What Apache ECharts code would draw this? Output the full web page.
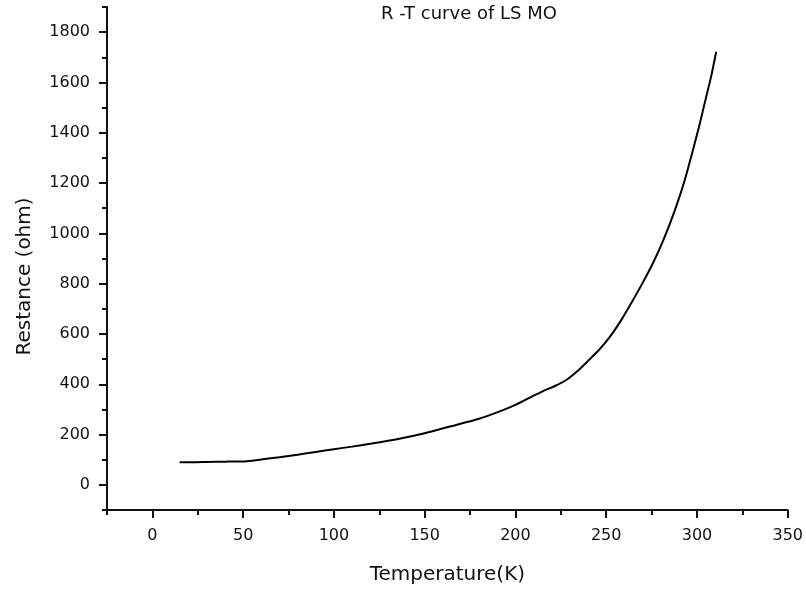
<!DOCTYPE html>
<html><head><meta charset="utf-8">
<script src="https://cdn.jsdelivr.net/npm/echarts@6/dist/echarts.min.js"></script>
<style>html,body{margin:0;padding:0;background:#fff}#c{width:806px;height:590px}</style>
</head><body><div id="c"></div>
<script>
const temperature = [15, 22, 30, 40, 45, 50, 55, 60, 70, 80, 90, 100, 110, 120, 136, 150, 164, 180, 191, 200, 209, 215, 222, 228, 235, 240, 246, 252, 258, 264, 270, 276, 282, 288, 293, 297, 301, 305, 308, 310.6];
const resistance  = [90, 90, 91, 92, 93, 93, 96, 101, 110, 120, 131, 142, 152, 163, 183, 205, 232, 263, 291, 318, 351, 372, 394, 417, 458, 493, 536, 588, 652, 725, 802, 885, 982, 1095, 1205, 1310, 1420, 1540, 1630, 1722];
const xMajorTicks = [0, 50, 100, 150, 200, 250, 300, 350];
const xMinorTicks = [-25, 25, 75, 125, 175, 225, 275, 325];
const yMajorTicks = [0, 200, 400, 600, 800, 1000, 1200, 1400, 1600, 1800];
const yMinorTicks = [-100, 100, 300, 500, 700, 900, 1100, 1300, 1500, 1700, 1900];

const font = 'DejaVu Sans';
const ink = '#111';
const data = temperature.map((t, i) => [t, resistance[i]]);
const plain = v => String(v);

const chart = echarts.init(document.getElementById('c'), null, {renderer: 'canvas'});
chart.setOption({
  animation: false,
  backgroundColor: '#fff',
  title: {
    text: 'R -T curve of LS MO',
    left: 376, top: 0,
    textStyle: {fontFamily: font, fontSize: 18, fontWeight: 'normal', color: ink}
  },
  grid: {left: 107, right: 17, top: 7, bottom: 80, containLabel: false},
  xAxis: [{
    type: 'value', min: -25, max: 350,
    name: 'Temperature(K)', nameLocation: 'middle', nameGap: 55,
    nameTextStyle: {fontFamily: font, fontSize: 20, color: ink},
    axisLine: {show: true, onZero: false, lineStyle: {color: ink, width: 2}},
    axisTick: {show: true, inside: false, length: 8, lineStyle: {color: ink, width: 2}, customValues: xMajorTicks},
    axisLabel: {show: true, margin: 18, fontFamily: font, fontSize: 16, color: ink, formatter: plain, customValues: xMajorTicks},
    splitLine: {show: false}
  }, {
    type: 'value', min: -25, max: 350, position: 'bottom',
    axisLine: {show: false, onZero: false},
    axisTick: {show: true, inside: false, length: 5, lineStyle: {color: ink, width: 2}, customValues: xMinorTicks},
    axisLabel: {show: false},
    splitLine: {show: false}
  }],
  yAxis: [{
    type: 'value', min: -100, max: 1900,
    name: 'Restance (ohm)', nameLocation: 'middle', nameGap: 72,
    nameTextStyle: {fontFamily: font, fontSize: 20, color: ink, padding: [0, 36, 0, 0]},
    axisLine: {show: true, onZero: false, lineStyle: {color: ink, width: 2}},
    axisTick: {show: true, inside: false, length: 8, lineStyle: {color: ink, width: 2}, customValues: yMajorTicks},
    axisLabel: {show: true, margin: 17, fontFamily: font, fontSize: 16, color: ink, formatter: plain, customValues: yMajorTicks},
    splitLine: {show: false}
  }, {
    type: 'value', min: -100, max: 1900, position: 'left',
    axisLine: {show: false, onZero: false},
    axisTick: {show: true, inside: false, length: 5, lineStyle: {color: ink, width: 2}, customValues: yMinorTicks},
    axisLabel: {show: false},
    splitLine: {show: false}
  }],
  series: [{
    type: 'line', data: data, smooth: 0.2, showSymbol: false, symbol: 'none',
    xAxisIndex: 0, yAxisIndex: 0,
    lineStyle: {color: '#000', width: 2}
  }]
});
</script></body></html>
